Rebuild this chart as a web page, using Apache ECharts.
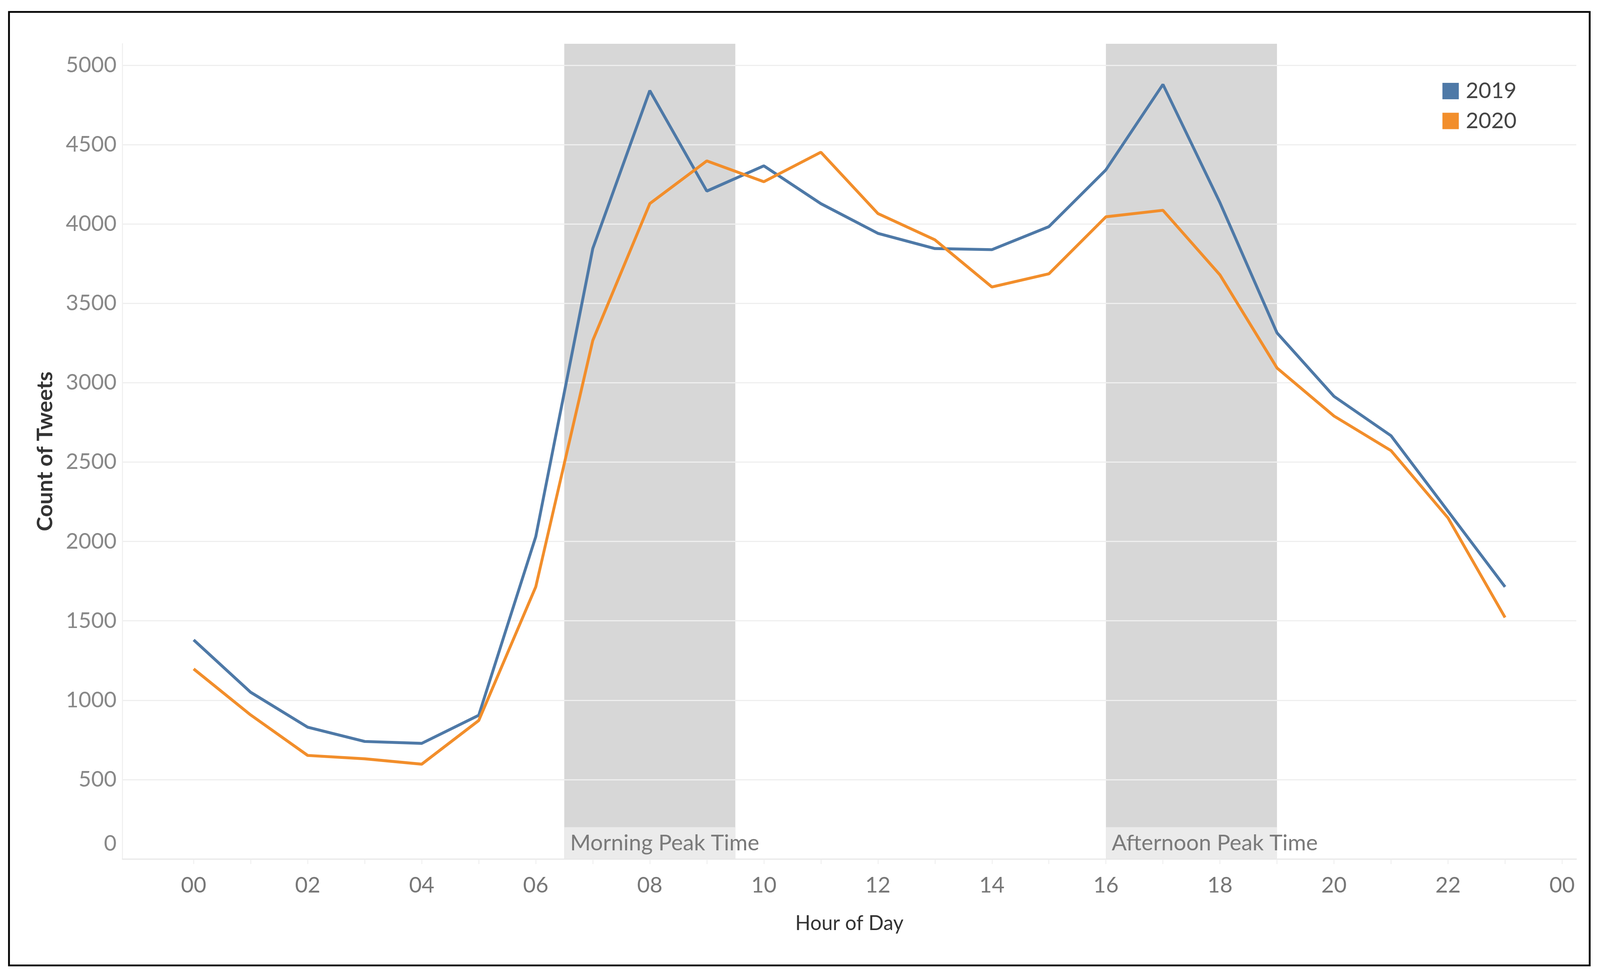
<!DOCTYPE html>
<html>
<head>
<meta charset="utf-8">
<script src="https://cdn.jsdelivr.net/npm/echarts@6/dist/echarts.min.js"></script>
<style>
html,body{margin:0;padding:0;background:#fff;overflow:hidden;width:100%;height:100%;}
#c{width:100vw;height:100vh;}
</style>
</head>
<body>
<div id="c"></div>
<script>
const hours = [0,1,2,3,4,5,6,7,8,9,10,11,12,13,14,15,16,17,18,19,20,21,22,23];
const tweets2019 = [1380,1050,830,740,728,905,2030,3845,4840,4207,4366,4128,3941,3845,3838,3983,4341,4879,4134,3314,2914,2666,2190,1714];
const tweets2020 = [1197,907,652,631,597,872,1714,3266,4128,4397,4266,4452,4066,3900,3603,3686,4045,4086,3679,3093,2790,2572,2148,1521];
const yTicks = [0,500,1000,1500,2000,2500,3000,3500,4000,4500,5000];
const xTicks = [0,2,4,6,8,10,12,14,16,18,20,22,24];
const xMinorTicks = [0,1,2,3,4,5,6,7,8,9,10,11,12,13,14,15,16,17,18,19,20,21,22,23,24];
const peaks = [
  {name:'Morning Peak Time', from:6.5, to:9.5},
  {name:'Afternoon Peak Time', from:16, to:19}
];
const seriesNames = ['2019','2020'];

const FONT = 'Lato';
const el = document.getElementById('c');
const W = el.clientWidth || 4393, H = el.clientHeight || 2495;
const sx = W/4393, sy = H/2495, s = Math.min(sx, sy);
const X = v => v*sx, Y = v => v*sy, F = v => v*s;

const chart = echarts.init(el, null, {renderer:'canvas', width:W, height:H});

const bandData = [];
peaks.forEach(p => {
  bandData.push([{xAxis:p.from, itemStyle:{color:'#d7d7d7'}, label:{show:false}}, {xAxis:p.to}]);
  bandData.push([{xAxis:p.from, yAxis:0, name:p.name, itemStyle:{color:'#ebebeb'},
    label:{show:true, position:'insideLeft', distance:F(16), formatter:'{b}', color:'#7a7a7a', fontSize:F(61), fontFamily:FONT}},
    {xAxis:p.to, yAxis:200}]);
});

function pad(v){ const h = ((v%24)+24)%24; return (h<10?'0':'')+h; }

chart.setOption({
  animation:false,
  backgroundColor:'#ffffff',
  textStyle:{fontFamily:FONT},
  graphic:[{type:'rect', left:X(22), top:Y(28), shape:{width:X(4340), height:Y(2440)},
    style:{fill:null, stroke:'#000', lineWidth:F(5)}, silent:true, z:100}],
  legend:{
    orient:'vertical', left:X(3955), top:Y(200),
    icon:'rect', itemWidth:F(45), itemHeight:F(45), itemGap:F(22),
    textStyle:{fontSize:F(60), lineHeight:F(60), color:'#444', fontFamily:FONT, padding:[0,0,0,F(14)]},
    data:seriesNames
  },
  grid:{left:X(336), right:X(65), top:Y(112), bottom:Y(297), containLabel:false},
  xAxis:{
    type:'value', min:-1.25, max:24.25, z:1.5,
    name:'Hour of Day', nameLocation:'middle', nameGap:Y(140),
    nameTextStyle:{fontSize:F(55), color:'#333', fontFamily:FONT},
    axisLine:{show:true, onZero:false, lineStyle:{color:'#e8e8e8', width:F(3)}},
    axisTick:{show:true, customValues:xMinorTicks, length:F(14), lineStyle:{color:'#ececec', width:F(2)}},
    axisLabel:{customValues:xTicks, formatter:pad, fontSize:F(60), color:'#777', margin:Y(40), fontFamily:FONT},
    splitLine:{show:false}
  },
  yAxis:{
    type:'value', min:0, max:5135, z:1.5,
    name:'Count of Tweets', nameLocation:'middle', nameGap:X(182),
    nameTextStyle:{fontSize:F(60), color:'#333', fontWeight:'bold', fontFamily:FONT},
    axisLine:{show:true, onZero:false, lineStyle:{color:'#f0f0f0', width:F(3)}},
    axisTick:{show:false, customValues:yTicks},
    axisLabel:{customValues:yTicks, fontSize:F(60), color:'#888', margin:X(16), fontFamily:FONT,
      formatter:function(v){ return v===0 ? '{z|0}' : String(v); },
      rich:{z:{fontSize:F(60), color:'#888', fontFamily:FONT, padding:[0,0,Y(78),0]}}},
    splitLine:{show:true, customValues:yTicks, lineStyle:{color:'#efefef', width:F(3)}}
  },
  series:[
    {name:'2019', type:'line', z:3, data:hours.map((h,i)=>[h,tweets2019[i]]),
     showSymbol:false, symbol:'none', lineStyle:{color:'#4e79a7', width:F(8)}, itemStyle:{color:'#4e79a7'},
     markArea:{silent:true, z:1, data:bandData}},
    {name:'2020', type:'line', z:3, data:hours.map((h,i)=>[h,tweets2020[i]]),
     showSymbol:false, symbol:'none', lineStyle:{color:'#f28e2b', width:F(8)}, itemStyle:{color:'#f28e2b'}}
  ]
});
</script>
</body>
</html>
